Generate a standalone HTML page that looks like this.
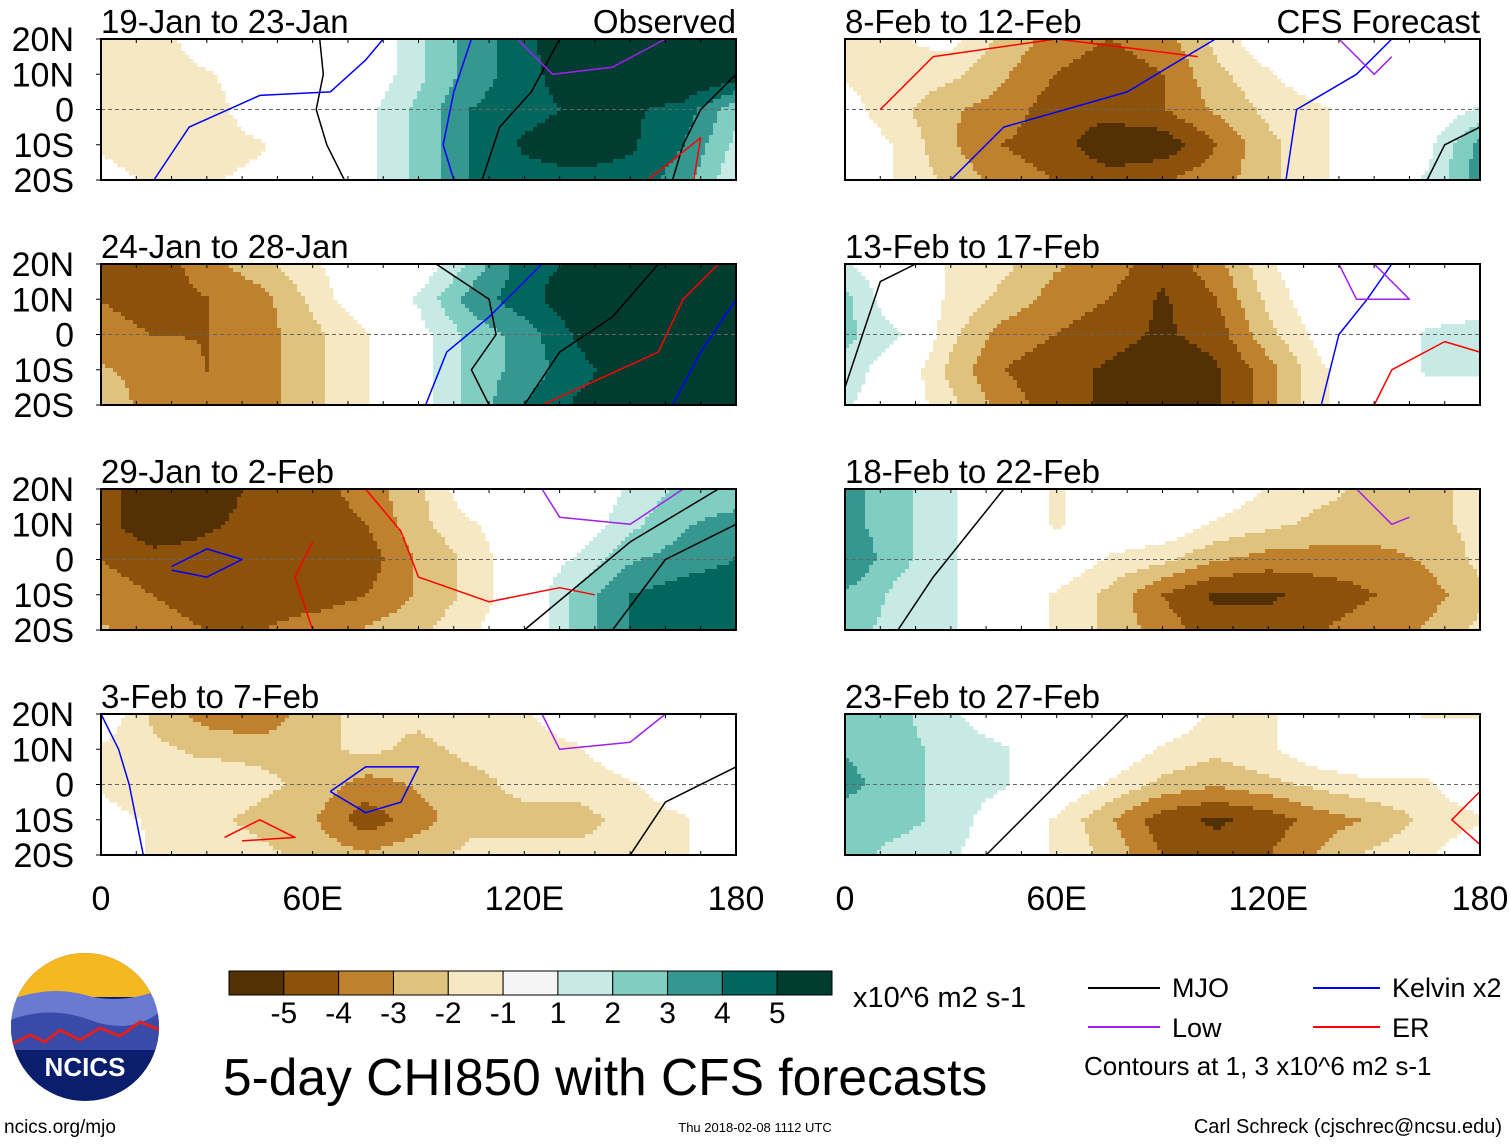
<!DOCTYPE html>
<html><head><meta charset="utf-8">
<style>
body{margin:0;background:#fff;width:1510px;height:1142px;overflow:hidden;font-family:"Liberation Sans",sans-serif;}
svg text{font-family:"Liberation Sans",sans-serif;}
</style></head>
<body>
<svg id="chart" width="1510" height="1142" xmlns="http://www.w3.org/2000/svg"></svg>
<script>
const levelColors=["#543005","#8c510a","#bf812d","#dfc27d","#f6e8c3","#f5f5f5","#c7eae5","#80cdc1","#35978f","#01665e","#003c30"];
const colorbarLabels=["-5","-4","-3","-2","-1","1","2","3","4","5"];
const lonTicks=[0,60,120,180];
const lonTickLabels=["0","60E","120E","180"];
const latTicks=[20,10,0,-10,-20];
const latTickLabels=["20N","10N","0","10S","20S"];
const gridLons=[0,15,30,45,60,75,90,105,120,135,150,165,180];
const gridLats=[20,10,0,-10,-20];
const panelTitles=["19-Jan to 23-Jan","24-Jan to 28-Jan","29-Jan to 2-Feb","3-Feb to 7-Feb","8-Feb to 12-Feb","13-Feb to 17-Feb","18-Feb to 22-Feb","23-Feb to 27-Feb"];
const field1=[[-1.5,-1.5,0,0,0,0,1.5,3,4,5.5,5.5,5.5,5.5],[-1.5,-1.5,-1,0,0,0,1.5,3,4,5,5.5,5.5,5],[-1.5,-1,-1.5,0,0,0.5,2,3.5,4,4.5,4.5,4,2],[-1,-1.5,-1.5,-1,0,0.5,2,3.5,4.5,5,4.5,3.5,1.5],[-0.5,-1,-1,-0.5,0,0.5,2,3.5,4,4,4,3,1]];
const field2=[[-3.5,-4,-3,-2,-1,0,0,2,4,4.5,5.5,5.5,5.5],[-3.5,-4,-3.5,-3,-1.5,0,1,3,4,5,5.5,5.5,5.5],[-3,-3.5,-3.5,-3,-2,-1,0.5,2,3,4.5,5.5,5.5,5.5],[-2.5,-3,-3.5,-3,-2,-1,0.5,2,3,4,5,5.5,5.5],[-2,-3,-3,-3,-2,-1,0.5,2,3.5,4.5,5,5.5,5.5]];
const field3=[[-4,-5,-5,-4,-4,-3,-2,0,0,0,1,2,2],[-4,-5,-4.5,-4,-4,-3.5,-2,-1,0,0,1.5,2.5,3],[-3.5,-4,-4,-4,-4,-4,-2.5,-1.5,0,1,2.5,3,3.5],[-3,-3.5,-4,-4,-4,-3.5,-2.5,-1.5,0,2,3.5,4,4],[-2.5,-3,-3.5,-3.5,-3,-2.5,-2,-1,0,2,3.5,4,4]];
const field4=[[0,-2,-3,-3.5,-2,-1.5,-1.5,-1,-1,0,0,0,0],[-1,-1.5,-2,-2,-2,-1.5,-2,-1.5,-1.5,-1,0,0,0],[-1,-1.5,-1,-1.5,-2,-3,-2.5,-2,-1.5,-1.5,-1,0,0],[-0.5,-1,-1.5,-2,-2.5,-4,-3,-2,-2,-2,-1.5,-1,0],[0,-1,-1,-1.5,-2,-2.5,-2,-1.5,-1.5,-1.5,-1.5,-1,0]];
const field5=[[-1,-1,-0.5,-2,-3,-3.5,-3,-1.5,0,0,0,0,0],[-1,-1,-1.5,-2.5,-3.5,-4,-3.5,-2,-1,0,0,0,0],[-0.5,-1.5,-2.5,-3,-4,-4,-3.5,-2.5,-1.5,-1,0,0,1],[0,-1,-2.5,-3.5,-4,-5,-5,-3.5,-2,-1,0,0.5,3],[0,-1,-2,-3,-3.5,-4,-3.5,-3,-2,-1,0,1,3]];
const field6=[[1,0,-1,-1.5,-2.5,-3,-4,-3,-1,0,0,0,0],[2,0,-1,-2,-3,-3.5,-4.5,-3.5,-1.5,0,0,0,0],[2,1,-1.5,-3,-3.5,-4,-4.5,-4,-2,-0.5,0,1,1.5],[1.5,0,-2,-3.5,-4,-4.5,-5,-4.5,-3,-1,0,1,1],[1,0,-1.5,-3,-4,-4.5,-5,-4.5,-3,-1,0,0,0]];
const field7=[[3,2,1,0,-1,0,0,0,-1,-1.5,-2,-2,-1.5],[3,2,1,0,-1,0,0,-1,-1.5,-2,-2,-2,-1.5],[3.5,2,1,0,0,-1,-1.5,-2.5,-3,-3,-3,-2.5,-1.5],[2.5,1.5,1,0,-1,-2,-3.5,-4.5,-4.5,-4,-3.5,-3,-2],[2,1.5,1,0,-1,-2,-3,-4,-4,-3.5,-3,-2.5,-1.5]];
const field8=[[2,2,1,0,0,0,0,-1,-1,0,0,-1,-1],[2.5,2,1.5,1,0,0,-1,-1.5,-1,0,0,0,0],[3,2,1.5,1,0,-1,-2,-2.5,-2,-1.5,-1,-1,0],[2,2,1.5,0,-1,-2.5,-4,-4.5,-4,-3,-2.5,-1.5,-1],[2,1.5,1,0,-1,-2,-3.5,-4,-3.5,-2.5,-1.5,-1,0]];
const fields=[field1,field2,field3,field4,field5,field6,field7,field8];
const lines1=[["#000",[[62,20],[63,10],[61,0],[64,-10],[69,-20]]],["#000",[[130,20],[122,5],[113,-5],[108,-20]]],["#000",[[180,10],[170,0],[165,-10],[162,-20]]],["#00f",[[15,-20],[25,-5],[45,4],[65,5],[75,14],[80,20]]],["#00f",[[105,20],[100,5],[97,-10],[100,-20]]],["#a020f0",[[118,20],[128,10],[145,12],[160,20]]],["#f00",[[155,-20],[165,-12],[170,-8],[168,-20]]]];
const lines2=[["#000",[[95,20],[110,10],[112,0],[105,-10],[110,-20]]],["#000",[[158,20],[145,5],[130,-5],[120,-20]]],["#00f",[[125,20],[110,5],[98,-5],[92,-20]]],["#00f",[[180,10],[170,-5],[162,-20]]],["#f00",[[175,20],[165,10],[158,-5],[125,-20]]]];
const lines3=[["#000",[[175,20],[150,5],[120,-20]]],["#000",[[180,10],[160,0],[145,-20]]],["#00f",[[20,-2],[30,3],[40,0],[30,-5],[20,-3]]],["#f00",[[75,20],[85,8],[90,-5],[110,-12],[130,-8],[140,-10]]],["#f00",[[60,-20],[55,-5],[60,5]]],["#a020f0",[[125,20],[130,12],[150,10],[165,20]]]];
const lines4=[["#000",[[180,5],[160,-5],[150,-20]]],["#00f",[[0,20],[5,10],[8,0],[12,-20]]],["#00f",[[65,-2],[75,5],[90,5],[85,-5],[75,-8],[65,-2]]],["#f00",[[35,-15],[45,-10],[55,-15],[40,-16]]],["#a020f0",[[125,20],[130,10],[150,12],[160,20]]]];
const lines5=[["#f00",[[10,0],[25,15],[60,20],[100,15]]],["#00f",[[30,-20],[45,-5],[80,5],[105,20]]],["#00f",[[125,-20],[128,0],[145,10],[155,20]]],["#000",[[165,-20],[170,-10],[180,-5]]],["#a020f0",[[140,20],[150,10],[155,15]]]];
const lines6=[["#000",[[0,-15],[5,0],[10,15],[20,20]]],["#00f",[[135,-20],[140,0],[148,10],[155,20]]],["#f00",[[150,-20],[155,-10],[170,-2],[180,-5]]],["#a020f0",[[140,20],[145,10],[160,10],[150,20]]]];
const lines7=[["#000",[[15,-20],[25,-5],[45,20]]],["#a020f0",[[145,20],[155,10],[160,12]]]];
const lines8=[["#000",[[40,-20],[55,-5],[80,20]]],["#f00",[[180,-2],[172,-10],[180,-17]]]];
const panelLines=[lines1,lines2,lines3,lines4,lines5,lines6,lines7,lines8];

const NS="http://www.w3.org/2000/svg";
const svg=document.getElementById('chart');
function mk(tag,attrs,parent){const e=document.createElementNS(NS,tag);for(const k in attrs)e.setAttribute(k,attrs[k]);(parent||svg).appendChild(e);return e;}
const PW=635,PH=141,GAIN=1.15;
const colX=[101,845],rowY=[39,264,489,714];
function xScale(px,lon){return px+lon/180*PW;}
function yScale(py,lat){return py+(20-lat)/40*PH;}
function levelOf(v){if(v<=-5)return 0;if(v<=-4)return 1;if(v<=-3)return 2;if(v<=-2)return 3;if(v<=-1)return 4;if(v<1)return 5;if(v<2)return 6;if(v<3)return 7;if(v<4)return 8;if(v<5)return 9;return 10;}
function interp(f,lon,lat){
  let fi=lon/15,fj=(20-lat)/10;
  let i=Math.max(0,Math.min(Math.floor(fi),gridLons.length-2)),j=Math.max(0,Math.min(Math.floor(fj),gridLats.length-2));
  let a=fi-i,b=fj-j;
  return f[j][i]*(1-a)*(1-b)+f[j][i+1]*a*(1-b)+f[j+1][i]*(1-a)*b+f[j+1][i+1]*a*b;
}
for(let p=0;p<8;p++){
  const px=colX[p<4?0:1],py=rowY[p%4];
  const g=mk('g',{});
  
  
  const f=fields[p];
  const cs=4;
  for(let y=0;y<PH;y+=cs){for(let x=0;x<PW;x+=cs){
    const lon=(x+cs/2)/PW*180,lat=20-(y+cs/2)/PH*40;
    const v=interp(f,lon,lat)*GAIN;
    const L=levelOf(v);
    if(L===5)continue;
    const r=mk('rect',{x:px+x,y:py+y,width:Math.min(cs,PW-x)+0.5,height:Math.min(cs,PH-y)+0.5,fill:levelColors[L]},g);
    
    
  }}
  const eq=mk('line',{x1:px,x2:px+PW,y1:yScale(py,0),y2:yScale(py,0),stroke:'#666','stroke-dasharray':'4,3','stroke-width':1},g);
  
  
  panelLines[p].forEach(l=>{
    const pts=l[1].map(q=>xScale(px,q[0]).toFixed(1)+','+yScale(py,q[1]).toFixed(1));
    const pl=mk('polyline',{points:pts.join(' '),fill:'none',stroke:l[0],'stroke-width':1.5,'stroke-linejoin':'round'},g);
    
    
  });
  const fr=mk('rect',{x:px,y:py,width:PW,height:PH,fill:'none',stroke:'#000','stroke-width':2},g);
  
  
  for(let lon=0;lon<=180;lon+=10){const x=xScale(px,lon);
    mk('line',{x1:x,x2:x,y1:py,y2:py+4,stroke:'#000'},g);mk('line',{x1:x,x2:x,y1:py+PH,y2:py+PH-4,stroke:'#000'},g);}
  const t=mk('text',{x:px,y:py-6,'font-size':33,fill:'#000'},g);t.textContent=panelTitles[p];
  
  
  if(p===0||p===4){const s=mk('text',{x:px+PW,y:py-6,'font-size':33,'text-anchor':'end'},g);s.textContent=p===0?'Observed':'CFS Forecast';
    
    }
  if(p<4){latTicks.forEach((lat,k)=>{const tx=mk('text',{x:74,y:yScale(py,lat)+12,'font-size':34,'text-anchor':'end'},g);tx.textContent=latTickLabels[k];
    
    
    mk('line',{x1:px-5,x2:px,y1:yScale(py,lat),y2:yScale(py,lat),stroke:'#000'},g);});}
  if(p%4===3){lonTicks.forEach((lon,k)=>{const tx=mk('text',{x:xScale(px,lon),y:910,'font-size':34,'text-anchor':'middle'},g);tx.textContent=lonTickLabels[k];
    
    });}
}
const cb=mk('g',{});


const cbx=229,cbw=603/levelColors.length;
levelColors.forEach((c,i)=>{mk('rect',{x:cbx+i*cbw,y:971,width:cbw,height:24,fill:c,stroke:'#000','stroke-width':1},cb);});
colorbarLabels.forEach((l,i)=>{const t=mk('text',{x:cbx+(i+1)*cbw,y:1023,'font-size':30,'text-anchor':'middle'},cb);t.textContent=l;
  
  });
</script>
<svg style="position:absolute;left:0;top:0" width="1510" height="1142">
<text x="853" y="1007" font-size="29">x10^6 m2 s-1</text>
<text x="223" y="1095" font-size="51.5">5-day CHI850 with CFS forecasts</text>
<g>
<line x1="1088" x2="1160" y1="988" y2="988" stroke="#000" stroke-width="2"/><text x="1172" y="997" font-size="27">MJO</text>
<line x1="1313" x2="1380" y1="988" y2="988" stroke="#00f" stroke-width="2"/><text x="1392" y="997" font-size="27">Kelvin x2</text>
<line x1="1088" x2="1160" y1="1027" y2="1027" stroke="#a020f0" stroke-width="2"/><text x="1172" y="1037" font-size="27">Low</text>
<line x1="1313" x2="1380" y1="1027" y2="1027" stroke="#f00" stroke-width="2"/><text x="1392" y="1037" font-size="27">ER</text>
<text x="1084" y="1075" font-size="26">Contours at 1, 3 x10^6 m2 s-1</text>
</g>
<g>
<clipPath id="lc"><circle cx="85" cy="1027" r="74"/></clipPath>
<g clip-path="url(#lc)">
<rect x="10" y="952" width="150" height="150" fill="#0a1e6e"/>
<rect x="10" y="952" width="150" height="45" fill="#f5b820"/>
<path d="M10 1000 Q50 985 85 995 T160 990 V1040 H10Z" fill="#6a7ad0"/>
<path d="M10 1020 Q50 1005 90 1020 T160 1012 V1050 H10Z" fill="#3a4aa8"/>
<polyline points="10,1045 30,1035 45,1042 60,1030 80,1040 100,1028 120,1036 140,1022 160,1030" fill="none" stroke="#e02020" stroke-width="3"/>
</g>
<text x="85" y="1076" font-size="26" font-weight="bold" fill="#fff" text-anchor="middle">NCICS</text>
</g>
<text x="4" y="1133" font-size="19">ncics.org/mjo</text>
<text x="755" y="1132" font-size="13" text-anchor="middle">Thu 2018-02-08 1112 UTC</text>
<text x="1502" y="1133" font-size="20" text-anchor="end">Carl Schreck (cjschrec@ncsu.edu)</text>
</svg>
</body></html>
